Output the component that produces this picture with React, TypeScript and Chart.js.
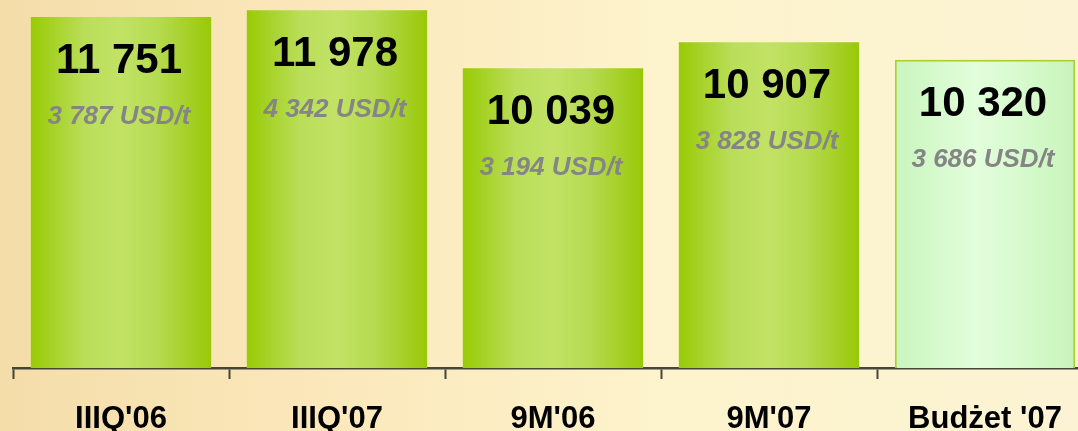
import React, { useEffect, useRef } from "react";
import { Chart, registerables } from "chart.js";

Chart.register(...registerables);

const categories = ["IIIQ'06", "IIIQ'07", "9M'06", "9M'07", "Budżet '07"];
const values = [11751, 11978, 10039, 10907, 10320];
const valueLabels = ["11 751", "11 978", "10 039", "10 907", "10 320"];
const usdLabels = ["3 787 USD/t", "4 342 USD/t", "3 194 USD/t", "3 828 USD/t", "3 686 USD/t"];
const budgetIndex = 4;

const FONT = 'Arial, "Liberation Sans", Helvetica, sans-serif';

function barFill(ctx: any) {
  const chart = ctx.chart;
  const area = chart.chartArea;
  if (!area) return "#a8d41c";
  const xScale = chart.scales.x;
  const cx = xScale.getPixelForValue(ctx.dataIndex);
  const half = 90;
  const g = chart.ctx.createLinearGradient(cx - half, 0, cx + half, 0);
  if (ctx.dataIndex === budgetIndex) {
    g.addColorStop(0, "#c9f5bd");
    g.addColorStop(0.45, "#e2fedb");
    g.addColorStop(0.6, "#dcfcd4");
    g.addColorStop(1, "#c8f4bb");
  } else {
    g.addColorStop(0, "#99cb06");
    g.addColorStop(0.3, "#bade5a");
    g.addColorStop(0.5, "#c2e265");
    g.addColorStop(0.7, "#b6db52");
    g.addColorStop(1, "#99c808");
  }
  return g;
}

const bgPlugin = {
  id: "bg",
  beforeDraw(chart: any) {
    const { ctx, width, height } = chart;
    const g = ctx.createLinearGradient(0, 0, width, 0);
    g.addColorStop(0, "#f4dda9");
    g.addColorStop(0.3, "#fbe8bb");
    g.addColorStop(0.6, "#fdf3cc");
    g.addColorStop(1, "#fbf3d4");
    ctx.save();
    ctx.fillStyle = g;
    ctx.fillRect(0, 0, width, height);
    ctx.restore();
  },
};

const labelPlugin = {
  id: "barLabels",
  afterDatasetsDraw(chart: any) {
    const { ctx } = chart;
    const meta = chart.getDatasetMeta(0);
    ctx.save();
    ctx.textAlign = "center";
    ctx.textBaseline = "alphabetic";
    meta.data.forEach((bar: any, i: number) => {
      const x = bar.x - 2;
      const y = bar.y;
      ctx.fillStyle = "#000000";
      ctx.font = `bold 42px ${FONT}`;
      ctx.fillText(valueLabels[i], x, y + 56);
      ctx.fillStyle = "#858585";
      ctx.font = `italic bold 26px ${FONT}`;
      ctx.fillText(usdLabels[i], x, y + 107);
    });
    ctx.restore();
  },
};

export default function App() {
  const ref = useRef<HTMLCanvasElement | null>(null);

  useEffect(() => {
    document.body.style.margin = "0";
    document.body.style.overflow = "hidden";
    if (!ref.current) return;
    const chart = new Chart(ref.current, {
      type: "bar",
      data: {
        labels: categories,
        datasets: [
          {
            data: values,
            backgroundColor: barFill as any,
            borderColor: values.map((_, i) => (i === budgetIndex ? "#a6d22a" : "rgba(0,0,0,0)")),
            borderWidth: values.map((_, i) => (i === budgetIndex ? 2 : 0)),
            categoryPercentage: 1,
            barPercentage: 0.835,
          },
        ],
      },
      options: {
        animation: false,
        responsive: true,
        maintainAspectRatio: false,
        layout: { padding: { left: 13, right: 7, top: 0, bottom: 0 } },
        plugins: { legend: { display: false }, tooltip: { enabled: false } },
        scales: {
          y: { display: false, min: 0, max: 12320 },
          x: {
            afterFit: (scale: any) => {
              scale.height = 63;
            },
            border: { display: true, color: "#45453a", width: 2.5 },
            grid: {
              display: true,
              offset: true,
              drawOnChartArea: false,
              drawTicks: true,
              tickLength: 11,
              tickWidth: 2,
              tickColor: "#45453a",
            },
            ticks: {
              color: "#000000",
              padding: 22,
              font: { family: FONT, size: 31, weight: "bold" },
              maxRotation: 0,
              autoSkip: false,
            },
          },
        },
      },
      plugins: [bgPlugin, labelPlugin],
    });
    return () => chart.destroy();
  }, []);

  return (
    <div style={{ position: "fixed", left: 0, top: 0, width: 1078, height: 431, overflow: "hidden" }}>
      <div style={{ position: "absolute", left: 0, top: 0, width: 1100, height: 431 }}>
        <canvas ref={ref} />
      </div>
    </div>
  );
}
